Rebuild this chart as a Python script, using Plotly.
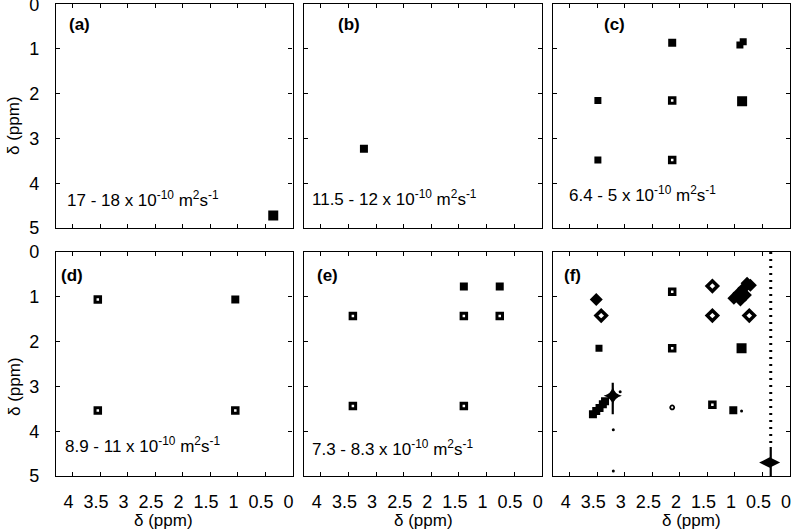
import plotly.graph_objects as go

# ---------------- data (ppm) ----------------
panel_names = ["(a)", "(b)", "(c)", "(d)", "(e)", "(f)"]
diff_labels = ["17 - 18 x 10<sup>-10</sup> m<sup>2</sup>s<sup>-1</sup>",
               "11.5 - 12 x 10<sup>-10</sup> m<sup>2</sup>s<sup>-1</sup>",
               "6.4 - 5 x 10<sup>-10</sup> m<sup>2</sup>s<sup>-1</sup>",
               "8.9 - 11 x 10<sup>-10</sup> m<sup>2</sup>s<sup>-1</sup>",
               "7.3 - 8.3 x 10<sup>-10</sup> m<sup>2</sup>s<sup>-1</sup>",
               ""]

x_tickvals = [4, 3.5, 3, 2.5, 2, 1.5, 1, 0.5, 0]
x_ticktext = ["4", "3.5", "3", "2.5", "2", "1.5", "1", "0.5", "0"]
y_tickvals = [0, 1, 2, 3, 4, 5]
y_ticktext = ["0", "1", "2", "3", "4", "5"]

# peak lists: x (F2 ppm), y (F1 ppm), kind (peak appearance class)
a_x = [0.35]
a_y = [4.72]
a_kind = ["big"]

b_x = [3.22]
b_y = [3.23]
b_kind = ["med"]

c_x = [2.14, 0.91, 0.85, 3.49, 2.14, 0.87, 3.49, 2.14]
c_y = [0.86, 0.91, 0.84, 2.15, 2.15, 2.17, 3.48, 3.48]
c_kind = ["med", "small", "small", "small", "ring", "big", "small", "ring"]

d_x = [3.54, 1.04, 3.54, 1.04]
d_y = [1.06, 1.06, 3.54, 3.54]
d_kind = ["ring", "med", "ring", "ring"]

e_x = [1.41, 0.76, 3.42, 1.41, 0.76, 3.42, 1.41]
e_y = [0.77, 0.77, 1.43, 1.43, 1.43, 3.44, 3.44]
e_kind = ["med", "med", "ring", "ring", "ring", "ring", "ring"]

f_x = [3.52, 3.43, 2.14, 1.41, 1.41, 0.74,
       1.02, 0.93, 0.84, 0.78, 0.72, 0.90, 0.81,
       3.47, 2.14, 0.88,
       3.58, 3.52, 3.46, 3.40, 3.36,
       3.22, 3.085, 3.21, 3.21,
       2.14, 1.41, 1.03, 0.88, 0.37]
f_y = [1.06, 1.42, 0.89, 0.76, 1.42, 1.42,
       1.03, 0.92, 0.81, 0.70, 0.74, 1.07, 0.96,
       2.15, 2.15, 2.15,
       3.62, 3.55, 3.48, 3.40, 3.33,
       3.21, 3.12, 3.97, 4.89,
       3.47, 3.41, 3.53, 3.55, 4.70]
f_kind = ["dia", "diaring", "ring", "diaring", "diaring", "diaring",
          "dia", "dia", "dia", "dia", "dia", "dia", "dia",
          "small", "ring", "big",
          "med", "med", "med", "med", "med",
          "star", "dot", "dot", "dot",
          "ringsmall", "ring", "med", "dot", "wide"]

# streaks (t1 noise / tails) in panel f: x position, y start, y end
f_streak_x = [3.22, 0.35]
f_streak_y0 = [2.92, 4.35]
f_streak_y1 = [3.62, 5.0]
f_noise_x = 0.35
f_noise_y0 = 0.0
f_noise_y1 = 4.35

panel_x = [a_x, b_x, c_x, d_x, e_x, f_x]
panel_y = [a_y, b_y, c_y, d_y, e_y, f_y]
panel_kind = [a_kind, b_kind, c_kind, d_kind, e_kind, f_kind]

# ---------------- styling ----------------
FONT = "Liberation Sans, Arial, sans-serif"
W, H = 792, 531
ML, MR, MT, MB = 56, 2, 4, 55
PW, PH = W - ML - MR, H - MT - MB

def px2x(px):
    return (px - ML) / PW

def px2y(py):
    return (H - MB - py) / PH

col_px = [(56.0, 292.5), (304.3, 541.7), (553.3, 790.0)]
row_px = [(4.2, 228.0), (252.0, 476.0)]

kind_style = {
    "big":      dict(symbol="square", size=10, color="black", line=dict(width=0)),
    "med":      dict(symbol="square", size=8, color="black", line=dict(width=0)),
    "small":    dict(symbol="square", size=7, color="black", line=dict(width=0)),
    "ring":     dict(symbol="square-open", size=5.5, color="black", line=dict(width=3, color="black")),
    "ringsmall": dict(symbol="circle-open", size=4, color="black", line=dict(width=1.8, color="black")),
    "dia":      dict(symbol="diamond", size=10, color="black", line=dict(width=0)),
    "diaring":  dict(symbol="diamond-open", size=8, color="black", line=dict(width=3.5, color="black")),
    "star":     dict(symbol="star-diamond", size=13, color="black", line=dict(width=0)),
    "dot":      dict(symbol="circle", size=3, color="black", line=dict(width=0)),
    "wide":     dict(symbol="diamond-wide", size=15, color="black", line=dict(width=0)),
}

fig = go.Figure()

for i in range(6):
    r, c = divmod(i, 3)
    sx = "" if i == 0 else str(i + 1)
    xr, yr = "x" + sx, "y" + sx
    if i == 5:
        for sxv, y0, y1 in zip(f_streak_x, f_streak_y0, f_streak_y1):
            fig.add_trace(go.Scatter(x=[sxv, sxv], y=[y0, y1], mode="lines",
                                     line=dict(color="black", width=2.2),
                                     xaxis=xr, yaxis=yr, showlegend=False, hoverinfo="skip"))
        fig.add_trace(go.Scatter(x=[f_noise_x, f_noise_x], y=[f_noise_y0, f_noise_y1], mode="lines",
                                 line=dict(color="black", width=3, dash="2px,5px"),
                                 xaxis=xr, yaxis=yr, showlegend=False, hoverinfo="skip"))
    kinds = panel_kind[i]
    for k in dict.fromkeys(kinds):
        xs = [x for x, kk in zip(panel_x[i], kinds) if kk == k]
        ys = [y for y, kk in zip(panel_y[i], kinds) if kk == k]
        fig.add_trace(go.Scatter(x=xs, y=ys, mode="markers", marker=kind_style[k],
                                 xaxis=xr, yaxis=yr, showlegend=False, hoverinfo="skip"))

    axcommon = dict(showline=True, linecolor="black", linewidth=1.3, mirror="ticks",
                    ticks="inside", ticklen=4, tickwidth=1.3, tickcolor="black",
                    showgrid=False, zeroline=False, automargin=False,
                    ticklabeloverflow="allow",
                    tickfont=dict(family=FONT, size=18, color="black"))
    fig.layout["xaxis" + sx] = dict(
        axcommon, domain=[px2x(col_px[c][0]), px2x(col_px[c][1])], range=[4.3, 0],
        tickmode="array", tickvals=x_tickvals, ticktext=x_ticktext,
        showticklabels=(r == 1), anchor=yr, ticklabelstandoff=9, ticklabelshift=4)
    fig.layout["yaxis" + sx] = dict(
        axcommon, domain=[px2y(row_px[r][1]), px2y(row_px[r][0])], range=[5, 0],
        tickmode="array", tickvals=y_tickvals, ticktext=y_ticktext,
        showticklabels=(c == 0), anchor=xr, ticklabelstandoff=12)

annotations = []
label_pos = [(79, 25), (349, 25), (614, 25), (72, 275), (327, 275), (572, 275)]
diff_pos = [(65, 199), (310, 198), (567, 194), (63, 445), (310, 448), None]
for i in range(6):
    lx, ly = label_pos[i]
    annotations.append(dict(x=px2x(lx), y=px2y(ly), xref="paper", yref="paper",
                            text="<b>" + panel_names[i] + "</b>", showarrow=False,
                            xanchor="center", yanchor="middle",
                            font=dict(family=FONT, size=17, color="black")))
    if diff_pos[i] is not None:
        dx, dy = diff_pos[i]
        annotations.append(dict(x=px2x(dx), y=px2y(dy), xref="paper", yref="paper",
                                text=diff_labels[i], showarrow=False,
                                xanchor="left", yanchor="middle",
                                font=dict(family=FONT, size=17, color="black")))

for (tx, ty) in [(14, 126), (14, 387)]:
    annotations.append(dict(x=px2x(tx), y=px2y(ty), xref="paper", yref="paper",
                            text="δ (ppm)", textangle=-90, showarrow=False,
                            xanchor="center", yanchor="middle",
                            font=dict(family=FONT, size=17, color="black")))
for tx in [163, 423, 691]:
    annotations.append(dict(x=px2x(tx), y=px2y(520), xref="paper", yref="paper",
                            text="δ (ppm)", showarrow=False,
                            xanchor="center", yanchor="middle",
                            font=dict(family=FONT, size=17, color="black")))

fig.update_layout(width=W, height=H, margin=dict(l=ML, r=MR, t=MT, b=MB, autoexpand=False),
                  paper_bgcolor="white", plot_bgcolor="white",
                  annotations=annotations, showlegend=False)

fig.write_html("out.html", config={"displayModeBar": False},
               post_script="document.body.style.margin='0';document.body.style.padding='0';")
